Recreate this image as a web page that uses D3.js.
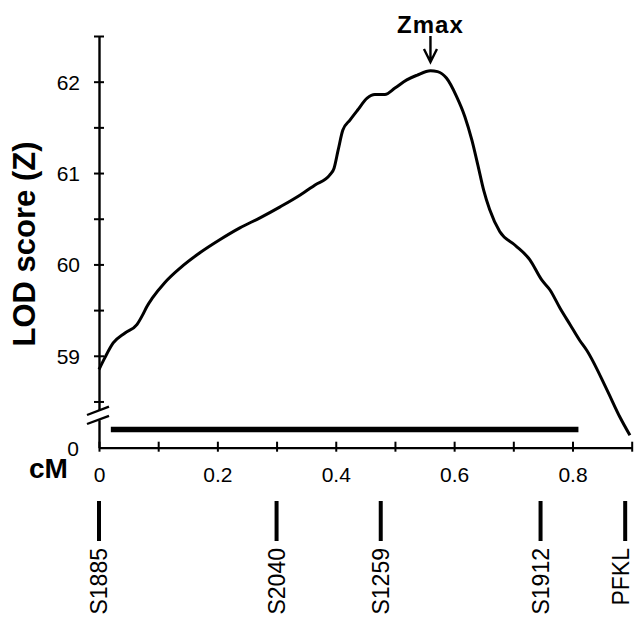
<!DOCTYPE html>
<html>
<head>
<meta charset="utf-8">
<script src="https://cdn.jsdelivr.net/npm/d3@7"></script>
<style>
  body { margin: 0; background: #fff; }
  svg { display: block; }
</style>
</head>
<body>
<div id="chart"></div>
<script>
'use strict';

// LOD curve (position in cM, LOD score Z)
var cmPos = [0.000, 0.010, 0.024, 0.044, 0.064, 0.074, 0.081, 0.090, 0.111, 0.137,
             0.171, 0.204, 0.238, 0.272, 0.306, 0.340, 0.365, 0.390, 0.397, 0.404,
             0.412, 0.424, 0.437, 0.453, 0.466, 0.483, 0.500, 0.520, 0.537, 0.560,
             0.572, 0.587, 0.604, 0.618, 0.630, 0.640, 0.650, 0.660, 0.677, 0.703,
             0.728, 0.748, 0.762, 0.779, 0.796, 0.812, 0.824, 0.858, 0.880, 0.897];
var lodScore = [58.85, 58.98, 59.14, 59.25, 59.34, 59.45, 59.54, 59.63, 59.80, 59.96,
                60.13, 60.27, 60.40, 60.51, 60.63, 60.76, 60.87, 60.98, 61.05, 61.25,
                61.47, 61.58, 61.69, 61.82, 61.86, 61.86, 61.93, 62.02, 62.07, 62.12,
                62.11, 62.04, 61.84, 61.62, 61.36, 61.09, 60.81, 60.60, 60.36, 60.21,
                60.05, 59.83, 59.72, 59.52, 59.34, 59.17, 59.06, 58.63, 58.33, 58.13];

var xTicks = [0, 0.1, 0.2, 0.3, 0.4, 0.5, 0.6, 0.7, 0.8, 0.9];
var xLabels = ['0', '', '0.2', '', '0.4', '', '0.6', '', '0.8', ''];
var yTicks = [58.5, 59, 59.5, 60, 60.5, 61, 61.5, 62, 62.5];
var yLabels = ['', '59', '', '60', '', '61', '', '62', ''];

// support interval and markers
var ciRange = [0.02, 0.81];
var markerNames = ['S1885', 'S2040', 'S1259', 'S1912', 'PFKL'];
var markerPos = [0, 0.30, 0.476, 0.746, 0.889];

var lod = {};
lod.w = 635;
lod.h = 619;
lod.font = '"Liberation Sans", Arial, sans-serif';
lod.x0 = 99;
lod.x1 = 631.7;
lod.axisY = 447.7;
lod.breakTop = 410.6;
lod.breakBottom = 419.7;

lod.xScale = d3.scaleLinear().domain([0, 0.9]).range([lod.x0, lod.x1]);
lod.yScale = d3.scaleLinear().domain([58.4, 62.5]).range([lod.breakTop, 36]);
lod.yLow = d3.scaleLinear().domain([0, 1]).range([lod.axisY, lod.breakBottom]);

lod.appendSvg = function (div)
{
    return d3.select(div).append('svg')
        .attr('width', lod.w)
        .attr('height', lod.h)
        .style('font-family', lod.font);
}

lod.createAxes = function (svg)
{
    // upper y axis (LOD 58.5 - 62.5)
    var yAxis = d3.axisLeft(lod.yScale)
        .tickValues(yTicks)
        .tickSizeOuter(0)
        .tickSizeInner(5)
        .tickFormat(function (d, i) { return yLabels[i]; });
    var gy = svg.append('g')
        .attr('transform', 'translate(' + lod.x0 + ',0)')
        .call(yAxis);
    gy.select('.domain').attr('stroke-width', 2.4);
    gy.selectAll('.tick line').attr('x1', 5).attr('x2', -5).attr('stroke-width', 2);
    gy.selectAll('.tick text')
        .attr('x', -19).attr('dy', '0.36em')
        .attr('font-size', 21).attr('font-family', lod.font).attr('fill', '#000');

    // lower stub with the 0
    var yAxisLow = d3.axisLeft(lod.yLow)
        .tickValues([0])
        .tickSizeOuter(0)
        .tickSizeInner(0)
        .tickFormat(function () { return '0'; });
    var gl = svg.append('g')
        .attr('transform', 'translate(' + lod.x0 + ',0)')
        .call(yAxisLow);
    gl.select('.domain').attr('stroke-width', 2.4);
    gl.selectAll('.tick text')
        .attr('x', -20).attr('dy', '0.36em')
        .attr('font-size', 21).attr('font-family', lod.font).attr('fill', '#000');

    // axis break slashes
    var slashes = [[lod.breakTop, 4.4], [lod.breakBottom, 4.3]];
    svg.selectAll('.slash').data(slashes).enter()
        .append('line')
        .attr('class', 'slash')
        .attr('x1', lod.x0 - 12).attr('x2', lod.x0 + 10)
        .attr('y1', function (d) { return d[0] + d[1]; })
        .attr('y2', function (d) { return d[0] - d[1] * 0.9; })
        .attr('stroke', '#000').attr('stroke-width', 2.4);

    // x axis in cM
    var xAxis = d3.axisBottom(lod.xScale)
        .tickValues(xTicks)
        .tickSizeOuter(0)
        .tickSizeInner(4)
        .tickFormat(function (d, i) { return xLabels[i]; });
    var gx = svg.append('g')
        .attr('transform', 'translate(0,' + lod.axisY + ')')
        .call(xAxis);
    gx.select('.domain').attr('stroke-width', 2.2);
    gx.selectAll('.tick line').attr('y1', -6).attr('y2', 4).attr('stroke-width', 2);
    gx.selectAll('.tick text')
        .attr('y', 34).attr('dy', 0)
        .attr('font-size', 21).attr('font-family', lod.font).attr('fill', '#000');
}

lod.appendCurve = function (svg)
{
    var pts = cmPos.map(function (c, i) { return [c, lodScore[i]]; });
    var line = d3.line()
        .x(function (d) { return lod.xScale(d[0]); })
        .y(function (d) { return lod.yScale(d[1]); })
        .curve(d3.curveMonotoneX);
    svg.append('path')
        .datum(pts)
        .attr('d', line)
        .attr('fill', 'none')
        .attr('stroke', '#000')
        .attr('stroke-width', 3)
        .attr('stroke-linejoin', 'round');

    // support bar
    svg.append('line')
        .attr('x1', lod.xScale(ciRange[0]))
        .attr('x2', lod.xScale(ciRange[1]))
        .attr('y1', 429.5).attr('y2', 429.5)
        .attr('stroke', '#000')
        .attr('stroke-width', 5.5);

    // Zmax arrow over the peak
    var iMax = d3.maxIndex(lodScore);
    var px = lod.xScale(cmPos[iMax]);
    var g = svg.append('g').attr('transform', 'translate(' + px + ',0)');
    g.append('path')
        .attr('d', 'M0,36 L0,61 M-6.5,49 L0,62 L6.5,49')
        .attr('fill', 'none').attr('stroke', '#000').attr('stroke-width', 2.4);
    g.append('text')
        .attr('x', 0).attr('y', 33)
        .attr('text-anchor', 'middle')
        .attr('font-size', 24).attr('font-weight', 'bold')
        .attr('letter-spacing', 1)
        .text('Zmax');
}

lod.appendMarkers = function (svg)
{
    var m = svg.selectAll('.marker')
        .data(markerNames.map(function (n, i) { return {name: n, pos: markerPos[i]}; }))
        .enter()
        .append('g')
        .attr('class', 'marker')
        .attr('transform', function (d) { return 'translate(' + lod.xScale(d.pos) + ',0)'; });
    m.append('line')
        .attr('y1', 501).attr('y2', 541)
        .attr('stroke', '#000').attr('stroke-width', 4);
    // keep the last label inside the right edge
    m.append('text')
        .attr('transform', function (d) {
            var shift = Math.min(0, lod.w - 14 - lod.xScale(d.pos));
            return 'translate(' + shift + ',548) rotate(-90)';
        })
        .attr('text-anchor', 'end')
        .attr('dy', '0.36em')
        .attr('font-size', 23)
        .text(function (d) { return d.name; });
}

lod.appendTitles = function (svg)
{
    svg.append('text')
        .attr('transform', 'translate(35,244) rotate(-90)')
        .attr('text-anchor', 'middle')
        .attr('font-size', 31).attr('font-weight', 'bold')
        .text('LOD score (Z)');
    svg.append('text')
        .attr('x', 29).attr('y', 478)
        .attr('font-size', 28).attr('font-weight', 'bold')
        .text('cM');
}

function lodChart(div)
{
    var svg = lod.appendSvg(div);
    lod.createAxes(svg);
    lod.appendCurve(svg);
    lod.appendMarkers(svg);
    lod.appendTitles(svg);
}

lodChart('#chart');
</script>
</body>
</html>
